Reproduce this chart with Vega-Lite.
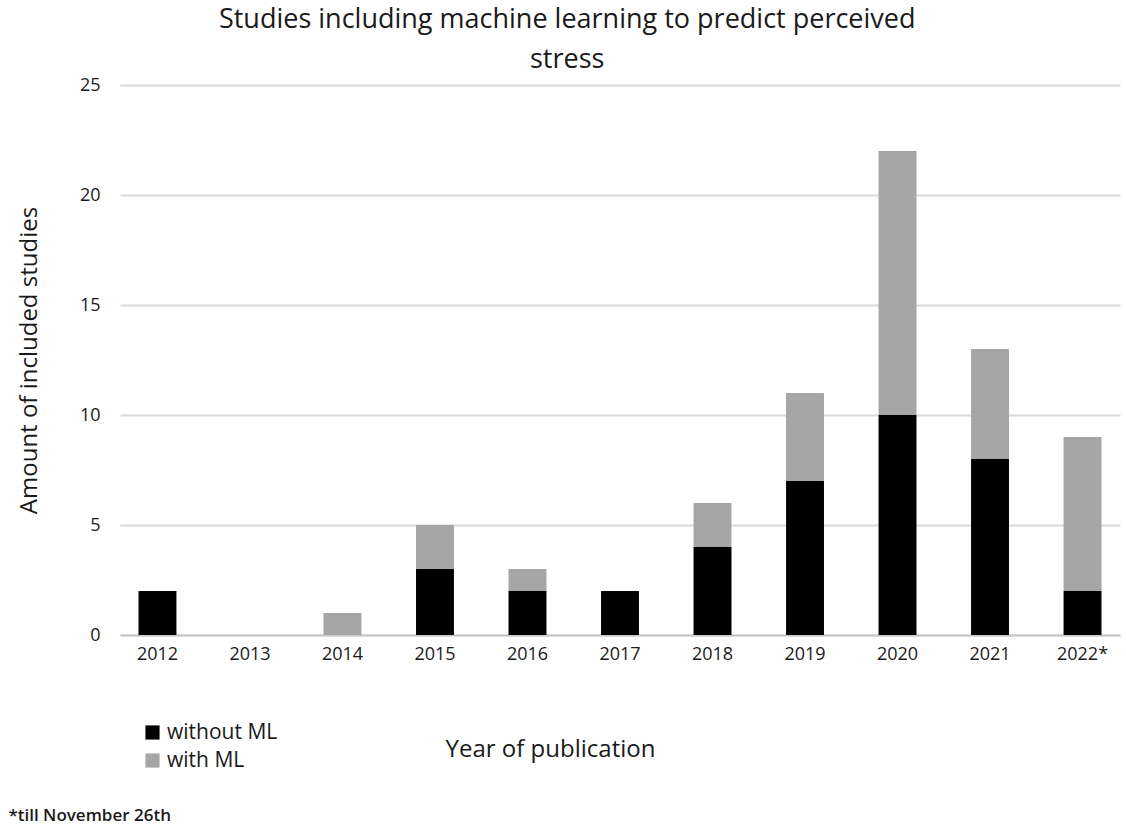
{
  "$schema": "https://vega.github.io/schema/vega-lite/v6.json",
  "background": "white",
  "padding": {"left": 8, "top": 6, "right": 5, "bottom": 5},
  "config": {"font": "Open Sans", "view": {"stroke": null}},
  "title": {
    "text": ["Studies including machine learning to predict perceived", "stress"],
    "fontSize": 27, "fontWeight": "normal", "color": "#1a1a1a",
    "anchor": "middle", "dx": 3, "offset": 2, "lineHeight": 40
  },
  "vconcat": [
    {
      "width": 1000,
      "height": 550,
      "title": {
        "text": "*till November 26th", "orient": "bottom", "anchor": "start", "frame": "bounds",
        "fontSize": 17, "fontWeight": 600, "color": "#1a1a1a", "offset": 47, "dx": -9
      },
      "data": {
        "values": [
          {"year": "2012", "type": "without ML", "count": 2},
          {"year": "2013", "type": "without ML", "count": 0},
          {"year": "2014", "type": "without ML", "count": 0},
          {"year": "2015", "type": "without ML", "count": 3},
          {"year": "2016", "type": "without ML", "count": 2},
          {"year": "2017", "type": "without ML", "count": 2},
          {"year": "2018", "type": "without ML", "count": 4},
          {"year": "2019", "type": "without ML", "count": 7},
          {"year": "2020", "type": "without ML", "count": 10},
          {"year": "2021", "type": "without ML", "count": 8},
          {"year": "2022*", "type": "without ML", "count": 2},
          {"year": "2012", "type": "with ML", "count": 0},
          {"year": "2013", "type": "with ML", "count": 0},
          {"year": "2014", "type": "with ML", "count": 1},
          {"year": "2015", "type": "with ML", "count": 2},
          {"year": "2016", "type": "with ML", "count": 1},
          {"year": "2017", "type": "with ML", "count": 0},
          {"year": "2018", "type": "with ML", "count": 2},
          {"year": "2019", "type": "with ML", "count": 4},
          {"year": "2020", "type": "with ML", "count": 12},
          {"year": "2021", "type": "with ML", "count": 5},
          {"year": "2022*", "type": "with ML", "count": 7}
        ]
      },
      "mark": {"type": "bar"},
      "encoding": {
        "x": {
          "field": "year", "type": "nominal", "sort": null,
          "scale": {"paddingInner": 0.59, "paddingOuter": 0.2},
          "axis": {
            "title": "Year of publication", "titleFontSize": 24, "titleFontWeight": "normal",
            "titleColor": "#1a1a1a", "titlePadding": 74, "titleX": 430,
            "labelAngle": 0, "labelFontSize": 18, "labelColor": "#1a1a1a", "labelPadding": 10,
            "ticks": false, "domainColor": "#c8c8c8", "domainWidth": 2, "grid": false
          }
        },
        "y": {
          "field": "count", "type": "quantitative", "stack": "zero",
          "scale": {"domain": [0, 25]},
          "axis": {
            "title": "Amount of included studies", "titleFontSize": 24, "titleFontWeight": "normal",
            "titleColor": "#1a1a1a", "titlePadding": 38,
            "values": [0, 5, 10, 15, 20, 25], "labelFontSize": 18, "labelColor": "#1a1a1a",
            "labelPadding": 20, "ticks": false, "domain": false,
            "gridColor": "#d9d9d9", "gridWidth": 2
          }
        },
        "color": {
          "field": "type", "type": "nominal",
          "sort": ["without ML", "with ML"],
          "scale": {"domain": ["without ML", "with ML"], "range": ["#000000", "#a6a6a6"]},
          "legend": {
            "title": null, "orient": "none", "legendX": 22, "legendY": 637,
            "direction": "vertical", "symbolType": "square", "symbolSize": 200,
            "labelFontSize": 21, "labelColor": "#1a1a1a", "rowPadding": 6, "symbolStrokeWidth": 0,
            "labelOffset": 4
          }
        },
        "order": {"field": "type", "sort": "descending"}
      }
    }
  ]
}
